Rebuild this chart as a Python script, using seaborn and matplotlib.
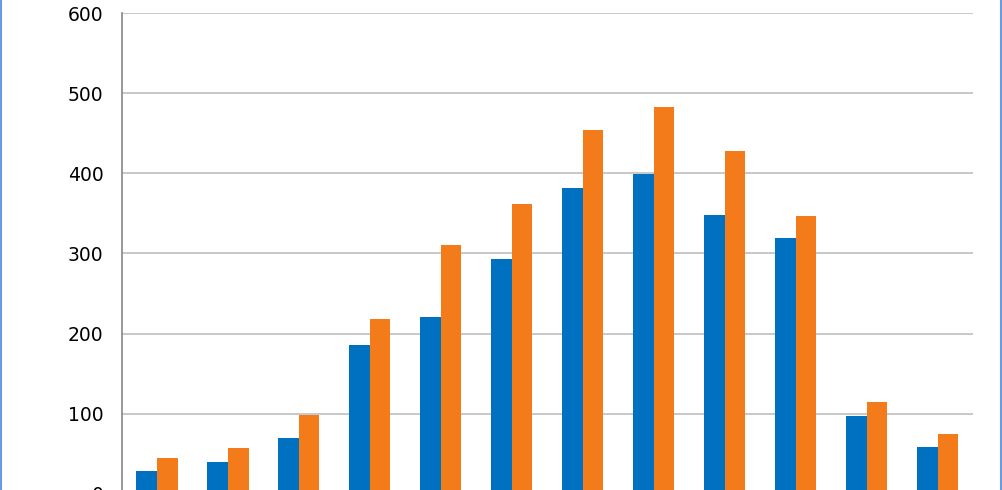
import matplotlib
matplotlib.use("Agg")
import matplotlib.pyplot as plt
import pandas as pd
import seaborn as sns
from matplotlib.lines import Line2D

# Datos (12 categorías, 2 series)
categorias = ["Ene", "Feb", "Mar", "Abr", "May", "Jun",
              "Jul", "Ago", "Sep", "Oct", "Nov", "Dic"]
serie_a = [28, 39, 69, 186, 221, 293, 382, 399, 348, 319, 97, 58]
serie_b = [45, 57, 98, 218, 311, 362, 454, 483, 428, 347, 114, 74]
nombres_series = ["Serie 1", "Serie 2"]
colores = ["#0070C0", "#F47B1A"]

df = pd.DataFrame({
    "categoria": categorias * 2,
    "valor": serie_a + serie_b,
    "serie": [nombres_series[0]] * len(categorias) + [nombres_series[1]] * len(categorias),
})

sns.set_style("white")
plt.rcParams["font.family"] = ["DejaVu Sans"]

fig = plt.figure(figsize=(10.02, 4.9), dpi=100)
ax = fig.add_axes([121.5 / 1002, -3.5 / 490, (973 - 121.5) / 1002, 480 / 490])

sns.barplot(data=df, x="categoria", y="valor", hue="serie", palette=colores,
            width=0.58, saturation=1, legend=False, linewidth=0, ax=ax)

ax.set_ylim(0, 600)
ax.set_yticks(range(0, 601, 100))
ax.set_xlim(-0.5, len(categorias) - 0.5)
ax.yaxis.grid(True, color="#BFBFBF", linewidth=1.2)
ax.set_axisbelow(True)
ax.set_xlabel("")
ax.set_ylabel("")
for lado in ["top", "right", "bottom"]:
    ax.spines[lado].set_visible(False)
ax.spines["left"].set_color("#868686")
ax.spines["left"].set_linewidth(1.2)
ax.tick_params(axis="y", length=0, pad=13, labelsize=13.5, labelcolor="black")
# las etiquetas del eje x quedan fuera de la imagen en el original
ax.tick_params(axis="x", length=0, labelbottom=False)

# Borde azul del marco
fig.add_artist(Line2D([0.5 / 1002, 0.5 / 1002], [0, 1], color="#6A9BE0", lw=1.5))
fig.add_artist(Line2D([1000.5 / 1002, 1000.5 / 1002], [0, 1], color="#6A9BE0", lw=1.5))

fig.savefig("out.png", dpi=100)
